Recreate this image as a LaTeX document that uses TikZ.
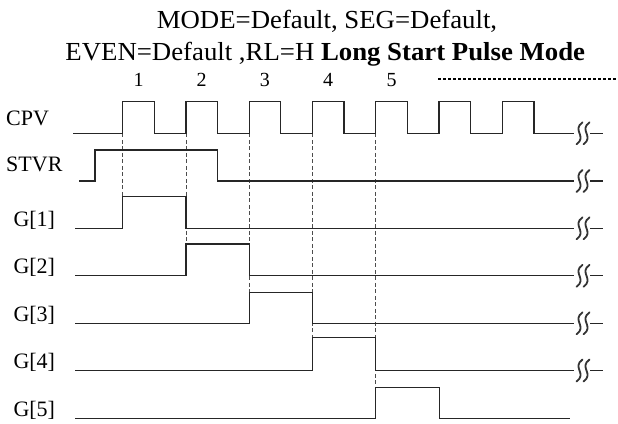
\documentclass[tikz,border=0pt]{standalone}
\usepackage{fontspec}
\setmainfont{Liberation Serif}
\newfontfamily\ttlfont[FakeStretch=1.03]{Liberation Serif}
\begin{document}
\begin{tikzpicture}[x=1pt,y=-1pt,
  sig/.style={line width=1.2pt, black!85, line join=miter},
  guide/.style={line width=0.7pt, black!70, dash pattern=on 4pt off 2.5pt},
  lbl/.style={anchor=base west, inner sep=0pt, font=\fontsize{22}{24}\selectfont},
  num/.style={anchor=base, inner sep=0pt, font=\fontsize{20}{22}\selectfont},
  ttl/.style={anchor=base, inner sep=0pt, font=\ttlfont\fontsize{26}{30}\selectfont},
  brk/.style={line width=1.8pt, black!80, line cap=round},
  breakmark/.pic={
    \fill[white] (-9,-13) rectangle (8,13);
    \foreach \d in {-3.5,3.5} \draw[brk] (\d+3,-11) .. controls (\d-8,-3) and (\d+8,3) .. (\d-3,11);
  }]
\useasboundingbox (0,0) rectangle (618,423);

% titles
\node[ttl] (t1) at (327,28.3) {MODE=Default, SEG=Default,};
\node[ttl] (t2) at (325.3,60) {EVEN=Default ,RL=H \textbf{Long Start Pulse Mode}};

% pulse numbers
\foreach \r [count=\i] in {122.7,185.9,249.1,312.4,375.7}
  \node[num] (n\i) at (\r+15.8,86.7) {\i};

% dotted continuation
\coordinate (da) at (438.3,79);
\coordinate (db) at (618,79);
\draw[line width=1.6pt, dash pattern=on 3pt off 2pt] (da) -- (db);

% labels
\node[lbl] (lcpv) at (6,125) {CPV};
\node[lbl] (lstvr) at (6,171.7) {STVR};
\node[lbl] (lg1) at (13.3,226.3) {G[1]};
\node[lbl] (lg2) at (13.3,273.8) {G[2]};
\node[lbl] (lg3) at (13.3,321.3) {G[3]};
\node[lbl] (lg4) at (13.3,368.5) {G[4]};
\node[lbl] (lg5) at (13.3,416.5) {G[5]};

% guides
\draw[guide] (122.7,133.3) -- (122.7,196.7);
\draw[guide] (185.9,133.3) -- (185.9,244);
\draw[guide] (249.1,133.3) -- (249.1,292.7);
\draw[guide] (312.4,133.3) -- (312.4,337.7);
\draw[guide] (375.7,133.3) -- (375.7,387.7);

% CPV
\draw[sig] (73.3,133.3)
  \foreach \r in {122.7,185.9,249.1,312.4,375.7,439.0,502.4} { -- (\r,133.3) -- (\r,101.7) -- (\r+31.6,101.7) -- (\r+31.6,133.3) }
  -- (576,133.3);
% STVR
\draw[sig] (79,181) -- (95,181) -- (95,150) -- (217.3,150) -- (217.3,181) -- (576,181);
% G1..G5
\draw[sig] (75,228.3) -- (122.7,228.3) -- (122.7,196.7) -- (185.9,196.7) -- (185.9,228.3) -- (576,228.3);
\draw[sig] (75,275.8) -- (185.9,275.8) -- (185.9,244) -- (249.1,244) -- (249.1,275.8) -- (576,275.8);
\draw[sig] (75,323.3) -- (249.1,323.3) -- (249.1,292.7) -- (312.4,292.7) -- (312.4,323.3) -- (576,323.3);
\draw[sig] (75,370.5) -- (312.4,370.5) -- (312.4,337.7) -- (375.7,337.7) -- (375.7,370.5) -- (576,370.5);
\draw[sig] (75,418.5) -- (375.7,418.5) -- (375.7,387.7) -- (439.3,387.7) -- (439.3,418.5) -- (570,418.5);

% break marks and tails
\foreach \y in {133.3,181,228.3,275.8,323.3,370.5} {
  \pic at (583,\y) {breakmark};
  \draw[sig] (590,\y) -- (602.5,\y);
}
\end{tikzpicture}
\end{document}
